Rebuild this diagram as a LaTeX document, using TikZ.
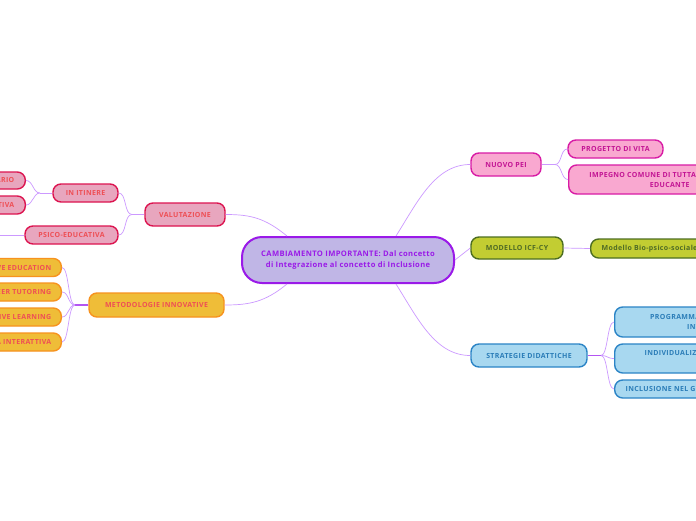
\documentclass[tikz,border=0pt]{standalone}
\usepackage{fontspec}
\setmainfont{Open Sans}[LetterSpace=5]
\definecolor{cF}{HTML}{C0B6E6}\definecolor{cD}{HTML}{9A1AE8}\definecolor{cT}{HTML}{9A1AE8}
\definecolor{vF}{HTML}{E8A6BE}\definecolor{vD}{HTML}{DC1450}\definecolor{vT}{HTML}{EE4F55}
\definecolor{mF}{HTML}{EFBD38}\definecolor{mD}{HTML}{F7921E}\definecolor{mT}{HTML}{EE4F55}
\definecolor{pF}{HTML}{F9A8D0}\definecolor{pD}{HTML}{D81BA5}\definecolor{pT}{HTML}{C31594}
\definecolor{gF}{HTML}{C2CD32}\definecolor{gD}{HTML}{4D6E21}\definecolor{gT}{HTML}{4F6B25}
\definecolor{sF}{HTML}{A8D8F0}\definecolor{sD}{HTML}{2B84C6}\definecolor{sT}{HTML}{2B7DB8}
\definecolor{lnC}{HTML}{CC99FF}\definecolor{fkC}{HTML}{B455F2}
\tikzset{
  box/.style={draw, line width=1.4pt, rounded corners=8pt, align=center, inner xsep=8pt, inner ysep=2pt,
    font=\fontsize{7}{10.5}\selectfont\bfseries},
  valbox/.style={box, fill=vF, draw=vD, text=vT},
  metbox/.style={box, fill=mF, draw=mD, text=mT},
  peibox/.style={box, fill=pF, draw=pD, text=pT},
  icfbox/.style={box, fill=gF, draw=gD, text=gT},
  strbox/.style={box, fill=sF, draw=sD, text=sT},
  conn/.style={draw=lnC, line width=0.7pt},
  fork/.style={draw=fkC, line width=1.6pt},
}
\begin{document}
\begin{tikzpicture}[x=1pt,y=-1pt]
\useasboundingbox (0,0) rectangle (696,520);
\clip (0,0) rectangle (696,520);
\fill[white] (0,0) rectangle (696,520);
% central
\node[draw=cD, fill=cF, text=cT, line width=2pt, rounded corners=20pt, minimum width=212pt, minimum height=46pt,
  align=center, font=\fontsize{7.6}{11.5}\selectfont\bfseries] (c) at (348,260)
  {CAMBIAMENTO IMPORTANTE: Dal concetto\\ di Integrazione al concetto di Inclusione};
% valutazione branch
\node[valbox, minimum width=80pt, minimum height=23pt] (val) at (185,214.5) {VALUTAZIONE};
\node[valbox, minimum width=65pt, minimum height=18pt] (iti) at (85.5,193) {IN ITINERE};
\node[valbox, minimum width=93pt, minimum height=18pt] (psi) at (71.5,235) {PSICO-EDUCATIVA};
\node[valbox, minimum height=17pt, anchor=east, inner xsep=11pt] (qst) at (26,180.5) {QUESTIONARIO};
\node[valbox, minimum height=18pt, anchor=east, inner xsep=11pt] (frm) at (26,205) {VALUTAZIONE FORMATIVA};
\coordinate (psiend) at (-20,235);
% metodologie branch
\node[metbox, minimum width=135pt, minimum height=24pt] (met) at (156.5,305) {METODOLOGIE INNOVATIVE};
\node[metbox, minimum height=18pt, anchor=east, inner xsep=10pt] (m1) at (62,267.5) {INCLUSIVE EDUCATION};
\node[metbox, minimum height=18pt, anchor=east, inner xsep=10pt] (m2) at (62,292) {PEER TUTORING};
\node[metbox, minimum height=18pt, anchor=east, inner xsep=10pt] (m3) at (62,317) {COOPERATIVE LEARNING};
\node[metbox, minimum height=18pt, anchor=east, inner xsep=10pt] (m4) at (62,342) {DIDATTICA INTERATTIVA};
% nuovo pei branch
\node[peibox, minimum width=70pt, minimum height=23pt] (pei) at (506,164.5) {NUOVO PEI};
\node[peibox, minimum width=95pt, minimum height=18pt] (vita) at (615.5,149) {PROGETTO DI VITA};
\node[peibox, minimum width=202pt, minimum height=29pt, anchor=west] (imp) at (568,179.5)
  {IMPEGNO COMUNE DI TUTTA LA COMUNITÀ\\ EDUCANTE};
% modello
\node[icfbox, minimum width=92pt, minimum height=22pt] (icf) at (517,248) {MODELLO ICF-CY};
\node[icfbox, minimum height=19pt, anchor=west, inner xsep=11pt] (bio) at (590,248.5) {Modello Bio-psico-sociale};
% strategie
\node[strbox, minimum width=116pt, minimum height=23pt] (str) at (529,355.5) {STRATEGIE DIDATTICHE};
\node[strbox, minimum width=186pt, minimum height=30pt, anchor=west] (s1) at (614,322)
  {PROGRAMMAZIONE DIDATTICA\\ INTEGRATA};
\node[strbox, minimum width=232pt, minimum height=29pt, anchor=west] (s2) at (614,358.5)
  {INDIVIDUALIZZAZIONE E PERSONALIZZAZIONE\\ DIDATTICA};
\node[strbox, minimum height=18pt, anchor=west, inner xsep=11pt] (s3) at (614,389)
  {INCLUSIONE NEL GRUPPO CLASSE};
% connectors from central
\draw[conn] ([xshift=-61pt]c.north) .. controls +(-22,-18) and +(25,0) .. (val.east);
\draw[conn] ([xshift=-61pt]c.south) .. controls +(-22,18) and +(25,0) .. (met.east);
\draw[conn] ([xshift=48pt]c.north) .. controls +(22,-35) and +(-35,0) .. (pei.west);
\draw[conn] ([xshift=48pt]c.south) .. controls +(22,35) and +(-35,0) .. (str.west);
\draw[conn] (c.east) -- (icf.west);
% valutazione forks
\coordinate (fv) at (132,214.5);
\draw[conn, line width=1pt] (val.west) -- (fv);
\draw[conn] (fv) .. controls +(-8,0) and +(8,0) .. (iti.east);
\draw[conn] (fv) .. controls +(-8,0) and +(8,0) .. (psi.east);
\coordinate (fi) at (40,193);
\draw[conn, line width=1pt] (iti.west) -- (fi);
\draw[conn] (fi) .. controls +(-7,0) and +(7,0) .. (qst.east);
\draw[conn] (fi) .. controls +(-7,0) and +(7,0) .. (frm.east);
\draw[conn] (psi.west) -- (psiend);
% metodologie forks
\coordinate (fm) at (75,305);
\draw[fork] (met.west) -- (fm);
\foreach \n in {m1,m2,m3,m4}{\draw[conn] (fm) .. controls +(-7,0) and +(7,0) .. (\n.east);}
% pei forks
\coordinate (fp) at (555,164.5);
\draw[conn, line width=1pt] (pei.east) -- (fp);
\draw[conn] (fp) .. controls +(7,0) and +(-7,0) .. (vita.west);
\draw[conn] (fp) .. controls +(7,0) and +(-7,0) .. (imp.west);
% modello
\draw[conn] (icf.east) -- (bio.west);
% strategie forks
\coordinate (fs) at (601,355.5);
\draw[fork] (str.east) -- (fs);
\foreach \n in {s1,s2,s3}{\draw[conn] (fs) .. controls +(7,0) and +(-7,0) .. (\n.west);}
\end{tikzpicture}
\end{document}
